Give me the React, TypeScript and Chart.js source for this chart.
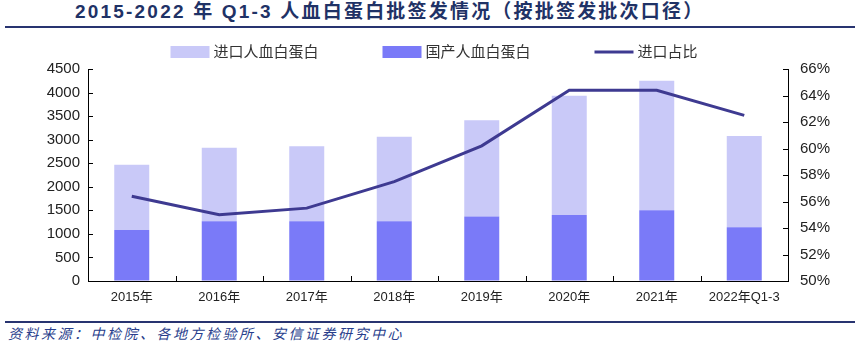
import React, { useEffect, useRef } from "react";
import { Chart, registerables } from "chart.js";

Chart.register(...registerables);

const categories = ["2015年", "2016年", "2017年", "2018年", "2019年", "2020年", "2021年", "2022年Q1-3"];
const importedValues = [1390, 1560, 1590, 1790, 2040, 2530, 2750, 1940];
const domesticValues = [1080, 1270, 1270, 1270, 1370, 1400, 1500, 1140];
const importShare = [56.4, 55.0, 55.5, 57.5, 60.2, 64.4, 64.4, 62.5];

const seriesNames = ["进口人血白蛋白", "国产人血白蛋白", "进口占比"];
const titleText = "2015-2022 年 Q1-3 人血白蛋白批签发情况（按批签发批次口径）";
const sourceText = "资料来源：中检院、各地方检验所、安信证券研究中心";

const FONT = "'Liberation Sans', Arial, 'Noto Sans CJK SC', sans-serif";
const LIGHT = "rgb(201,201,248)";
const MEDIUM = "rgb(122,122,248)";
const LINE = "rgb(62,58,145)";
const NAVY = "rgb(31,50,102)";

const legendPlugin = {
  id: "customLegend",
  afterDraw(chart: any) {
    const { ctx, chartArea } = chart;
    const ds = chart.data.datasets;
    const items = [ds[2], ds[1], ds[0]];
    ctx.save();
    ctx.font = `15px ${FONT}`;
    ctx.textBaseline = "middle";
    const boxW = 39;
    const gap = 4;
    const spacing = 64;
    const widths = items.map((it: any) => boxW + gap + ctx.measureText(it.label).width);
    const total = widths.reduce((a: number, b: number) => a + b, 0) + spacing * (items.length - 1);
    let x = (chartArea.left + chartArea.right) / 2 - total / 2 - 4;
    const y = 16;
    items.forEach((it: any, i: number) => {
      if (it.type === "line") {
        ctx.strokeStyle = it.borderColor;
        ctx.lineWidth = 3;
        ctx.beginPath();
        ctx.moveTo(x, y);
        ctx.lineTo(x + boxW, y);
        ctx.stroke();
      } else {
        ctx.fillStyle = it.backgroundColor;
        ctx.fillRect(x, y - 6, boxW, 12);
      }
      ctx.fillStyle = "#333";
      ctx.fillText(it.label, x + boxW + gap, y + 1);
      x += widths[i] + spacing;
    });
    ctx.restore();
  },
};

const innerTicksPlugin = {
  id: "innerTicks",
  afterDatasetsDraw(chart: any) {
    const { ctx, chartArea, scales } = chart;
    ctx.save();
    ctx.strokeStyle = "#000";
    ctx.lineWidth = 1;
    ctx.beginPath();
    scales.y.ticks.forEach((t: any) => {
      const py = Math.round(scales.y.getPixelForValue(t.value)) + 0.5;
      ctx.moveTo(chartArea.left, py);
      ctx.lineTo(chartArea.left + 5, py);
    });
    scales.y1.ticks.forEach((t: any) => {
      const py = Math.round(scales.y1.getPixelForValue(t.value)) + 0.5;
      ctx.moveTo(chartArea.right, py);
      ctx.lineTo(chartArea.right - 5, py);
    });
    const n = categories.length;
    for (let i = 1; i < n; i++) {
      const px = Math.round((scales.x.getPixelForValue(i - 1) + scales.x.getPixelForValue(i)) / 2) + 0.5;
      ctx.moveTo(px, chartArea.bottom);
      ctx.lineTo(px, chartArea.bottom - 5);
    }
    ctx.stroke();
    ctx.restore();
  },
};

export default function App() {
  const ref = useRef<HTMLCanvasElement | null>(null);

  useEffect(() => {
    if (!ref.current) return;
    const chart = new Chart(ref.current, {
      data: {
        labels: categories,
        datasets: [
          {
            type: "line",
            label: seriesNames[2],
            data: importShare,
            yAxisID: "y1",
            borderColor: LINE,
            backgroundColor: LINE,
            borderWidth: 3,
            pointRadius: 0,
            tension: 0,
            order: 0,
          },
          {
            type: "bar",
            label: seriesNames[1],
            data: domesticValues,
            yAxisID: "y",
            backgroundColor: MEDIUM,
            borderWidth: 0,
            categoryPercentage: 1,
            barPercentage: 0.4,
            stack: "s",
            order: 1,
          },
          {
            type: "bar",
            label: seriesNames[0],
            data: importedValues,
            yAxisID: "y",
            backgroundColor: LIGHT,
            borderWidth: 0,
            categoryPercentage: 1,
            barPercentage: 0.4,
            stack: "s",
            order: 1,
          },
        ],
      } as any,
      options: {
        animation: false,
        responsive: false,
        devicePixelRatio: 1,
        layout: { padding: { top: 33, left: 0, right: 0, bottom: 0 } },
        plugins: {
          legend: { display: false },
          tooltip: { enabled: false },
        },
        scales: {
          x: {
            stacked: true,
            offset: true,
            grid: { display: true, drawOnChartArea: false, drawTicks: false, offset: true },
            border: { display: true, color: "#000", width: 1 },
            ticks: { color: "#222", font: { family: FONT, size: 13 }, padding: 9, maxRotation: 0 },
            afterFit: (s: any) => {
              s.height = 31;
            },
          },
          y: {
            stacked: true,
            position: "left",
            min: 0,
            max: 4500,
            grid: { display: true, drawOnChartArea: false, drawTicks: false },
            border: { display: true, color: "#000", width: 1 },
            ticks: {
              stepSize: 500,
              color: "#222",
              font: { family: FONT, size: 15 },
              padding: 8,
              callback: (v: any) => String(v),
            },
            afterFit: (s: any) => {
              s.width = 88;
            },
          },
          y1: {
            position: "right",
            min: 50,
            max: 66,
            grid: { display: true, drawOnChartArea: false, drawTicks: false },
            border: { display: true, color: "#000", width: 1 },
            ticks: {
              stepSize: 2,
              color: "#222",
              font: { family: FONT, size: 15 },
              padding: 12,
              callback: (v: any) => `${v}%`,
            },
            afterFit: (s: any) => {
              s.width = 73;
            },
          },
        },
      } as any,
      plugins: [legendPlugin, innerTicksPlugin],
    });
    return () => chart.destroy();
  }, []);

  return (
    <div
      style={{
        position: "fixed",
        left: 0,
        top: 0,
        width: 861,
        height: 347,
        background: "#fff",
        overflow: "hidden",
      }}
    >
      <div
        style={{
          position: "absolute",
          left: 75,
          top: 1,
          whiteSpace: "nowrap",
          fontFamily: `'Liberation Sans', Arial, 'Noto Sans CJK SC', sans-serif`,
          fontWeight: 700,
          fontSize: 19,
          letterSpacing: 2.2,
          color: NAVY,
          lineHeight: "22px",
        }}
      >
        {titleText}
      </div>
      <div style={{ position: "absolute", left: 5, top: 26, width: 850, height: 2, background: "rgb(40,52,112)" }} />
      <canvas
        ref={ref}
        width={861}
        height={276}
        style={{ position: "absolute", left: 0, top: 36, width: 861, height: 276 }}
      />
      <div style={{ position: "absolute", left: 5, top: 321, width: 850, height: 2, background: "rgb(40,52,112)" }} />
      <div
        style={{
          position: "absolute",
          left: 8,
          top: 324,
          whiteSpace: "nowrap",
          fontFamily: `'Noto Sans CJK SC', sans-serif`,
          fontStyle: "italic",
          fontSize: 14,
          letterSpacing: 2.5,
          color: "rgb(40,62,140)",
          lineHeight: "18px",
        }}
      >
        {sourceText}
      </div>
    </div>
  );
}
